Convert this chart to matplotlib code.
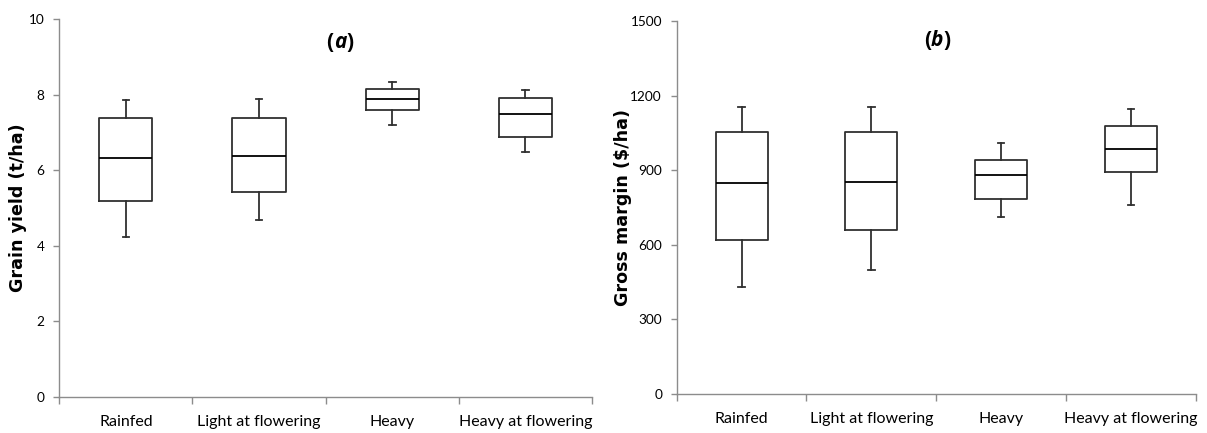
import matplotlib
matplotlib.use('Agg')
import matplotlib.pyplot as plt
import numpy as np

# treatments
cats = ['Rainfed', 'Light at flowering', 'Heavy', 'Heavy at flowering']

# box stats: whisker low, Q1, median, Q3, whisker high
grain_low = [4.22, 4.68, 7.20, 6.48]
grain_q1 = [5.18, 5.42, 7.60, 6.89]
grain_med = [6.31, 6.37, 7.89, 7.48]
grain_q3 = [7.37, 7.37, 8.15, 7.91]
grain_high = [7.87, 7.88, 8.34, 8.11]

gm_low = [431, 500, 710, 761]
gm_q1 = [621, 659, 785, 891]
gm_med = [849, 853, 880, 986]
gm_q3 = [1055, 1055, 943, 1078]
gm_high = [1156, 1156, 1008, 1145]

tick_font = 'Lato'
title_font = 'Open Sans'
spine_col = '#8c8c8c'
box_col = '#303030'


def make_stats(low, q1, med, q3, high):
    stats = []
    for i in range(len(cats)):
        stats.append({'whislo': low[i], 'q1': q1[i], 'med': med[i],
                      'q3': q3[i], 'whishi': high[i], 'fliers': []})
    return stats


def draw_panel(ax, stats, ymax, ystep, ylabel, letter, title_xy, label_x):
    pos = np.arange(1, len(cats) + 1)
    ax.bxp(stats, positions=pos, widths=0.4, capwidths=0.05, showfliers=False,
           boxprops=dict(color=box_col, linewidth=1.3),
           whiskerprops=dict(color=box_col, linewidth=1.3),
           capprops=dict(color=box_col, linewidth=1.3),
           medianprops=dict(color='black', linewidth=1.3))
    ax.set_xlim(0.5, len(cats) + 0.5)
    ax.set_ylim(0, ymax)
    ax.set_yticks(np.arange(0, ymax + 1e-9, ystep))

    # category boundaries get the tick marks, centres get the labels
    ax.set_xticks(np.arange(0.5, len(cats) + 1, 1.0))
    ax.set_xticklabels([])
    ax.set_xticks(pos, minor=True)
    ax.set_xticklabels(cats, minor=True, fontfamily=tick_font, fontsize=11.5)
    ax.tick_params(axis='x', which='minor', length=0, pad=13)
    ax.tick_params(axis='x', which='major', length=5, color=spine_col, width=1)
    ax.tick_params(axis='y', length=4.5, color=spine_col, width=1, pad=6)
    for t in ax.get_yticklabels():
        t.set_fontfamily(tick_font)
        t.set_fontsize(9.8)

    for s in ['top', 'right']:
        ax.spines[s].set_visible(False)
    for s in ['left', 'bottom']:
        ax.spines[s].set_color(spine_col)
        ax.spines[s].set_linewidth(1)

    ax.set_ylabel(ylabel, fontfamily='DejaVu Sans', fontweight='bold', fontsize=12.6)
    ax.yaxis.set_label_coords(label_x, 0.5)

    # "(a)" style title: bold brackets, bold italic letter
    t1 = ax.text(title_xy[0], title_xy[1], '(', transform=ax.transAxes,
                 fontfamily=title_font, fontweight='bold', fontsize=15,
                 ha='right', va='center')
    t2 = ax.annotate(letter, xy=(1, 0), xycoords=t1, va='bottom',
                     fontfamily=title_font, fontweight='bold', fontstyle='italic',
                     fontsize=15)
    ax.annotate(')', xy=(1, 0), xycoords=t2, va='bottom',
                fontfamily=title_font, fontweight='bold', fontsize=15)


fig = plt.figure(figsize=(12.07, 4.33), dpi=100)
ax1 = fig.add_axes([0.0491, 0.0831, 0.4414, 0.873])
ax2 = fig.add_axes([0.5606, 0.0901, 0.4302, 0.8614])

draw_panel(ax1, make_stats(grain_low, grain_q1, grain_med, grain_q3, grain_high),
           10, 2, 'Grain yield (t/ha)', 'a', (0.515, 0.939), -0.061)
draw_panel(ax2, make_stats(gm_low, gm_q1, gm_med, gm_q3, gm_high),
           1500, 300, 'Gross margin ($/ha)', 'b', (0.49, 0.949), -0.086)

fig.savefig('out.png', dpi=100)
